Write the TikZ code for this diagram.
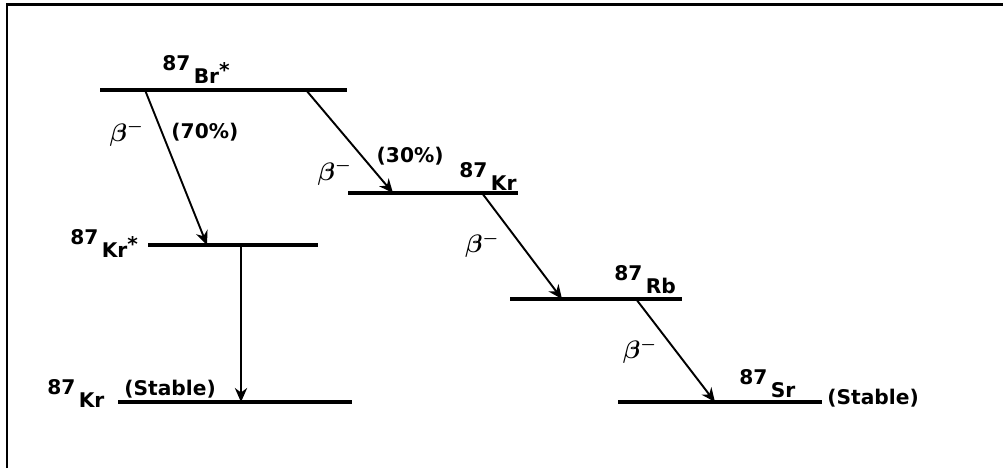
\documentclass[tikz,border=0pt]{standalone}
\usepackage{amsmath}
\usepackage{fontspec}
\usepackage{tikz}
\usetikzlibrary{
    arrows.meta
}
\newfontfamily\rotfont{DejaVu Sans}
\tikzset{
    >=Stealth,
    nivel/.style={line width=2.1pt},
    desint/.style={line width=1.1pt, -{Stealth[length=8pt, width=7pt]}},
    rotulo/.style={inner sep=0pt, font=\fontsize{11.5}{13}\rotfont\bfseries},
    beta/.style={inner sep=0pt, font=\fontsize{14}{16}\selectfont\boldmath}
}
\newcommand{\nuc}[1]{\raisebox{7pt}{87}\,#1}
\newcommand{\exc}{\raisebox{3pt}{*}}

\begin{document}
\begin{tikzpicture}[
    x=0.02cm, y=-0.02cm,
    >=Stealth
]
    \useasboundingbox (0,0) rectangle (1003,468);

    % Marco
    \draw[line width=1.6pt] (7,468) -- (7,4.5) -- (1003,4.5);

    % Niveles
    \coordinate (brI)  at (100,90);  \coordinate (brD)  at (347,90);
    \coordinate (krI)  at (348,193); \coordinate (krD)  at (518,193);
    \coordinate (kreI) at (148,245); \coordinate (kreD) at (318,245);
    \coordinate (krsI) at (118,402); \coordinate (krsD) at (352,402);
    \coordinate (rbI)  at (510,299); \coordinate (rbD)  at (682,299);
    \coordinate (srI)  at (618,402); \coordinate (srD)  at (822,402);

    \foreach \n in {br,kr,kre,krs,rb,sr}
        \draw[nivel] (\n I) -- (\n D);

    % Nucleos
    \node[rotulo, anchor=base west] (br)   at (162,83)  {\nuc{Br}\exc};
    \node[rotulo, anchor=base west] (kr)   at (459,190) {\nuc{Kr}};
    \node[rotulo, anchor=base west] (kre)  at (70,257)  {\nuc{Kr}\exc};
    \node[rotulo, anchor=base west] (krs)  at (47,407)  {\nuc{Kr}};
    \node[rotulo, anchor=base west] (rb)   at (614,293) {\nuc{Rb}};
    \node[rotulo, anchor=base west] (sr)   at (739,397) {\nuc{Sr}};
    \node[rotulo, anchor=base west] (est1) at (124,395) {(Stable)};
    \node[rotulo, anchor=base west] (est2) at (827,404) {(Stable)};

    % Extremos de las transiciones
    \coordinate (a0) at (145,90);  \coordinate (a1) at (207,245);
    \coordinate (b0) at (306,90);  \coordinate (b1) at (393,193);
    \coordinate (c0) at (482,193); \coordinate (c1) at (562,299);
    \coordinate (d0) at (636,299); \coordinate (d1) at (715,402);
    \coordinate (e0) at (241,245); \coordinate (e1) at (241,402);

    % Transiciones
    \path[desint]

        % 87Br* -> 87Kr*
        (a0)
            edge node[beta, pos=0.28, left=10pt] (betaA) {$\beta^-$}
                 node[rotulo, pos=0.27, right=5pt] (ramA) {(70\%)} (a1)

        % 87Br* -> 87Kr
        (b0)
            edge node[beta, pos=0.8, left=13pt] (betaB) {$\beta^-$}
                 node[rotulo, pos=0.64, right=8pt] (ramB) {(30\%)} (b1)

        % 87Kr -> 87Rb
        (c0)
            edge node[beta, pos=0.49, left=12pt] (betaC) {$\beta^-$} (c1)

        % 87Rb -> 87Sr
        (d0)
            edge node[beta, pos=0.5, left=10pt] (betaD) {$\beta^-$} (d1)

        % 87Kr* -> 87Kr
        (e0)
            edge (e1);

\end{tikzpicture}
\end{document}
